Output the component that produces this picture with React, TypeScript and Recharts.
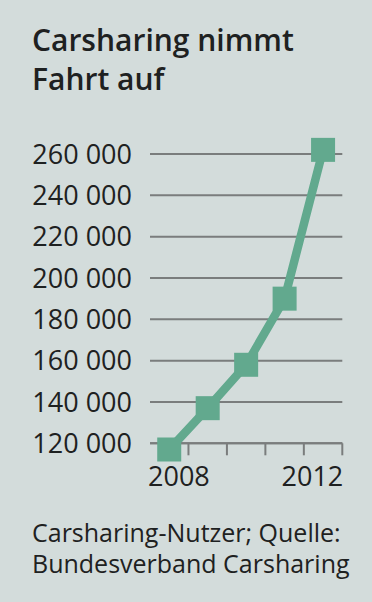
import { LineChart, Line, XAxis, YAxis, CartesianGrid } from 'recharts';

const years = [2008, 2009, 2010, 2011, 2012];
const users = [117000, 137000, 158000, 190000, 262000];
const yTicks = [120000, 140000, 160000, 180000, 200000, 220000, 240000, 260000];
const xTickLabels = ['2008', '', '', '', '2012'];

const data = years.map((year, i) => ({ year, users: users[i] }));

// band edges between the years, ticks go on these
const xEdges = [years[0] - 0.5, ...years.map(y => y + 0.5)];

const BG = '#d3dcdb';
const GREEN = '#62a98e';
const GRID = '#7a7d7d';
const INK = '#1e2121';
const FONT = '"Open Sans", "Noto Sans", sans-serif';

const fmt = (v: number) => String(v).replace(/\B(?=(\d{3})+(?!\d))/g, ' ');

const XTick = (props: { x?: number; y?: number; payload?: { value: number } }) => {
  const { x = 0, y = 0, payload } = props;
  if (!payload) return null;
  const idx = xEdges.indexOf(payload.value);
  const first = idx === 0;
  const last = idx === xEdges.length - 1;
  return (
    <g>
      {!first && <line x1={x} x2={x} y1={y} y2={y + 12} stroke={GRID} strokeWidth={2} />}
      {first && (
        <text x={x - 2} y={y + 43} textAnchor="start" fontSize={27} fill={INK} fontFamily={FONT}>
          {xTickLabels[0]}
        </text>
      )}
      {last && (
        <text x={x + 1} y={y + 43} textAnchor="end" fontSize={27} fill={INK} fontFamily={FONT}>
          {xTickLabels[xTickLabels.length - 1]}
        </text>
      )}
    </g>
  );
};

// squares drawn through the label so they are not clipped at the baseline
const Square = (props: { x?: number; y?: number }) => {
  const { x = 0, y = 0 } = props;
  return <rect x={x - 12} y={y - 12} width={24} height={24} fill={GREEN} />;
};

export default function App() {
  return (
    <div style={{ position: 'relative', width: 372, height: 602, background: BG, overflow: 'hidden', fontFamily: FONT, color: INK }}>
      <style>{'body{margin:0}'}</style>
      <div style={{ position: 'absolute', left: 32, top: 20, fontSize: 30, fontWeight: 600, lineHeight: '39px' }}>
        Carsharing nimmt<br />Fahrt auf
      </div>

      <div style={{ position: 'absolute', left: 0, top: 0 }}>
        <LineChart width={372} height={500} data={data} margin={{ top: 154, right: 29.7, bottom: 6.7, left: 0 }}>
          <CartesianGrid vertical={false} stroke={GRID} strokeWidth={2} />
          <XAxis
            dataKey="year" type="number" domain={[xEdges[0], xEdges[xEdges.length - 1]]}
            ticks={xEdges} interval={0} height={50} tickSize={0} tickMargin={0}
            axisLine={{ stroke: GRID, strokeWidth: 2 }} tickLine={false} tick={<XTick />}
          />
          <YAxis
            type="number" domain={[yTicks[0], yTicks[yTicks.length - 1]]} ticks={yTicks} allowDataOverflow
            width={150} axisLine={false} tickLine={false} tickSize={0} tickMargin={18}
            tickFormatter={fmt} tick={{ fill: INK, fontSize: 27, fontFamily: FONT }}
          />
          <Line
            dataKey="users" type="linear" stroke={GREEN} strokeWidth={8.5} dot={false} activeDot={false}
            label={<Square />} isAnimationActive={false}
          />
        </LineChart>
      </div>

      <div style={{ position: 'absolute', left: 32, top: 517, fontSize: 25, lineHeight: '31px' }}>
        Carsharing-Nutzer; Quelle:<br />Bundesverband Carsharing
      </div>
    </div>
  );
}
